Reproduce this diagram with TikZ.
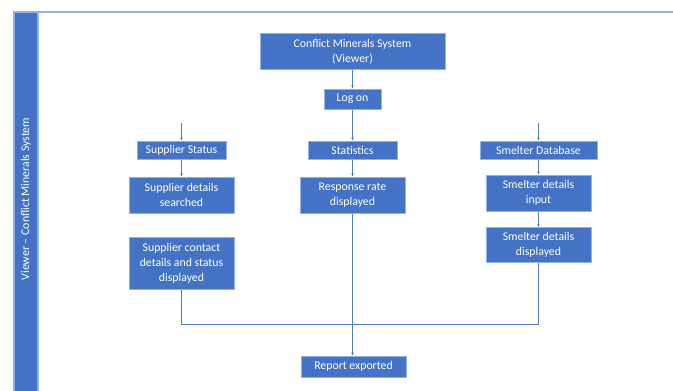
\documentclass[tikz,border=0pt]{standalone}
\usepackage{fontspec}
\setmainfont{Carlito}
\usetikzlibrary{arrows.meta}
\definecolor{boxblue}{RGB}{68,114,196}
\definecolor{edgeblue}{RGB}{143,178,232}
\definecolor{lineblue}{RGB}{80,120,200}
\begin{document}
\begin{tikzpicture}[x=1pt,y=-1pt,
  box/.style={rectangle,fill=boxblue,draw=edgeblue,line width=1pt,text=white,
    font=\fontsize{11.8}{15}\selectfont,align=center,inner sep=0pt},
  conn/.style={draw=lineblue,line width=0.6pt},
  arr/.style={conn,-{Stealth[length=3pt,width=2.6pt]}}]
\useasboundingbox (0,0) rectangle (673,391);
% frame
\draw[draw=edgeblue,line width=1.5pt] (13,12) -- (673,12);
\node[rectangle,fill=boxblue,draw=edgeblue,line width=1.5pt,minimum width=24pt,minimum height=380pt,inner sep=0pt] (band) at (26,202) {};
\node[rotate=90,text=white,font=\fontsize{11.8}{14}\selectfont] (bandtext) at (26,199) {Viewer – Conflict Minerals System};
% nodes
\node[box,minimum width=185pt,minimum height=36pt] (cms) at (352.5,51.5) {Conflict Minerals System\\(Viewer)};
\node[box,minimum width=57pt,minimum height=20pt] (logon) at (352.5,99) {Log on};
\node[box,minimum width=89pt,minimum height=18pt] (ss) at (181.5,150) {Supplier Status};
\node[box,minimum width=89pt,minimum height=18pt] (stat) at (352.5,150) {Statistics};
\node[box,minimum width=117pt,minimum height=18pt] (sdb) at (538.5,150) {Smelter Database};
\node[box,minimum width=105pt,minimum height=36pt] (sds) at (181.5,195) {Supplier details\\searched};
\node[box,minimum width=105pt,minimum height=36pt] (rrd) at (352.5,195) {Response rate\\displayed};
\node[box,minimum width=105pt,minimum height=36pt] (sdi) at (538.5,193) {Smelter details\\input};
\node[box,minimum width=105pt,minimum height=52pt] (scd) at (181.5,263) {Supplier contact\\details and status\\displayed};
\node[box,minimum width=105pt,minimum height=35pt] (sdd) at (538.5,245) {Smelter details\\displayed};
\node[box,minimum width=105pt,minimum height=21pt] (rep) at (353.5,366.5) {Report exported};
\coordinate (ssin) at (181.5,123);
\coordinate (sdbin) at (538.5,123);
% connectors
\draw[arr] (cms) -- (logon);
\draw[arr] (logon) -- (stat);
\draw[arr] (ssin) -- (ss);
\draw[arr] (sdbin) -- (sdb);
\draw[arr] (ss) -- (sds);
\draw[arr] (stat) -- (rrd);
\draw[arr] (sdb) -- (sdi);
\draw[arr] (sdi) -- (sdd);
\draw[conn] (scd.south) -- (181.5,324) -| (sdd.south);
\draw[arr] (rrd.south) -- (rep.north -| rrd.south);
\end{tikzpicture}
\end{document}
